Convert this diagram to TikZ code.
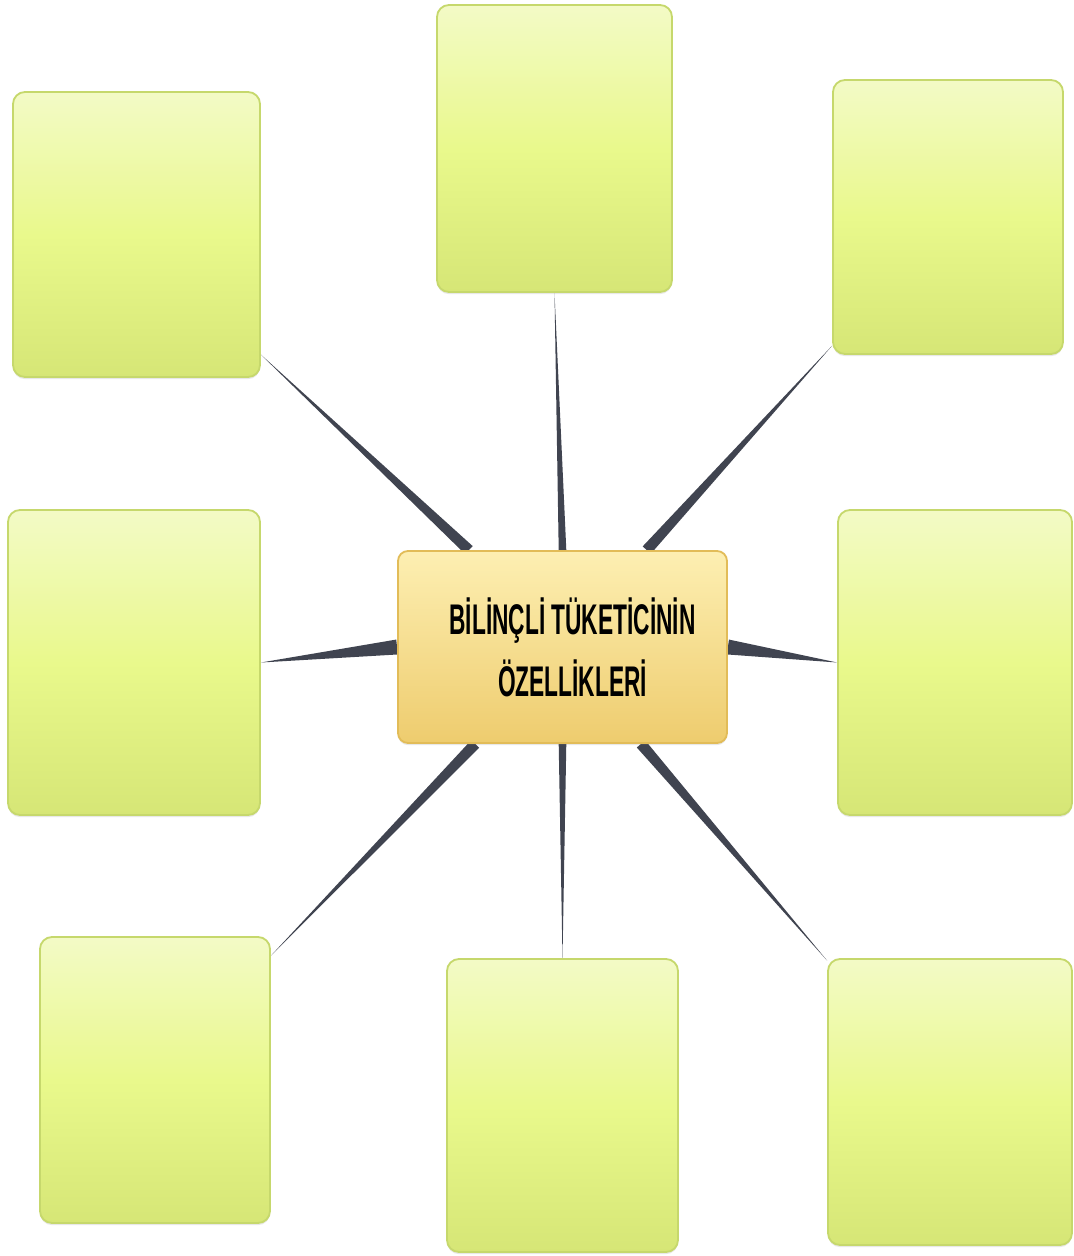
\documentclass[tikz,border=0pt]{standalone}
\usepackage{fontspec}
\usepackage{tikz}
\usetikzlibrary{calc, backgrounds, shadows}
\newfontfamily\titleFont[FakeStretch=0.53]{Liberation Sans}
\definecolor{leafTop}{RGB}{243,250,198}
\definecolor{leafMiddle}{RGB}{233,249,140}
\definecolor{leafBottom}{RGB}{214,230,118}
\definecolor{leafBorder}{RGB}{198,216,108}
\definecolor{rootTop}{RGB}{253,239,178}
\definecolor{rootBottom}{RGB}{238,204,110}
\definecolor{rootBorder}{RGB}{226,188,88}
\definecolor{spokeColor}{RGB}{64,68,80}
\newcommand{\px}{0.025cm}
\tikzstyle{canvas} = [x = 0.025cm, y = -0.025cm]
\tikzstyle{leafStyle} = [draw=leafBorder, line width=1.3pt, rounded corners = .3cm, top color=leafTop, bottom color=leafBottom, middle color=leafMiddle, drop shadow={opacity=0.18, shadow xshift=0pt, shadow yshift=-1.5pt}]
\tikzstyle{rootStyle} = [draw=rootBorder, line width=1.3pt, rounded corners = .25cm, top color=rootTop, bottom color=rootBottom, align=center, font=\titleFont\bfseries\fontsize{30.5}{44}\selectfont, drop shadow={opacity=0.18, shadow xshift=0pt, shadow yshift=-1.5pt}]
\tikzstyle{spokeStyle} = [fill=spokeColor]
\newcommand{\leafBox}[5]{\node [leafStyle, minimum width = #4*\px, minimum height = #5*\px] (#1) at (#2, #3) {};}
\newcommand{\spoke}[3]{\fill [spokeStyle] (#1) -- ($(#2)!#3!90:(#1)$) -- ($(#2)!#3!-90:(#1)$) -- cycle;}

\begin{document}
\begin{tikzpicture}[canvas]
        \useasboundingbox (0,0) rectangle (1073,1256);
        % outer boxes
        \leafBox{tl}{136.5}{234.5}{247}{285}
        \leafBox{tc}{554.5}{148.5}{235}{287}
        \leafBox{tr}{948}{217}{230}{274}
        \leafBox{ml}{134}{662.5}{252}{305}
        \leafBox{mr}{955}{662.5}{234}{305}
        \leafBox{bl}{155}{1080}{230}{286}
        \leafBox{bc}{562.5}{1105.5}{231}{293}
        \leafBox{br}{950}{1102}{244}{286}
        % centre
        \node [rootStyle, minimum width = 329*\px, minimum height = 192*\px] (c) at (562.5, 647) {\hspace*{0.5cm}BİLİNÇLİ TÜKETİCİNİN\\\hspace*{0.5cm}ÖZELLİKLERİ};
        \begin{pgfonlayer}{background}
          \fill [white] (0,0) rectangle (1073,1256);
          \spoke{tl.-44}{c.134}{5.5*\px}
          \spoke{tc.south}{c.north}{3.8*\px}
          \spoke{tr.-132}{c.49}{5.5*\px}
          \spoke{ml.east}{c.west}{7.5*\px}
          \spoke{mr.west}{c.east}{7.5*\px}
          \spoke{bl.47}{c.-132}{5.5*\px}
          \spoke{bc.north}{c.south}{3.8*\px}
          \spoke{br.131}{c.-51}{5.5*\px}
        \end{pgfonlayer}
      \end{tikzpicture}
\end{document}
